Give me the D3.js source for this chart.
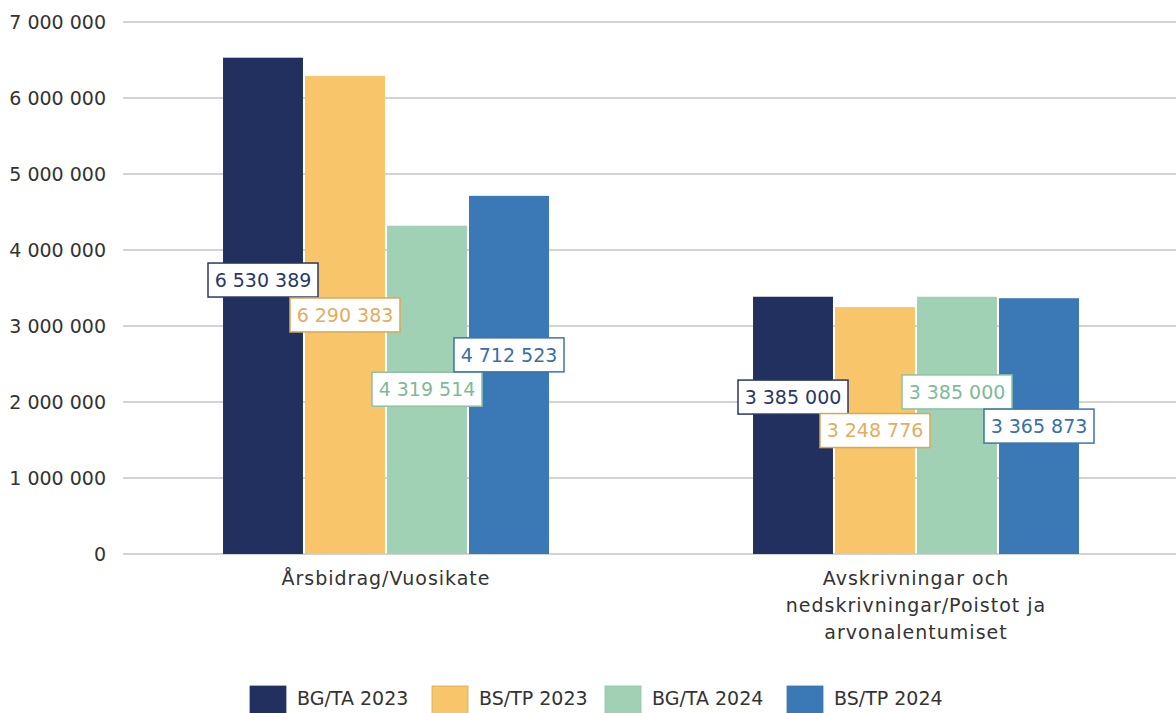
<!DOCTYPE html>
<html>
<head>
<meta charset="utf-8">
<script src="https://cdn.jsdelivr.net/npm/d3@7"></script>
<style>
	body { margin: 0; background: #fff; }
	text { font-family: "DejaVu Sans", sans-serif; }
</style>
</head>
<body>
<div id="chartContainer"></div>
<script>
"use strict";

var categories = ["Årsbidrag/Vuosikate", "Avskrivningar och nedskrivningar/Poistot ja arvonalentumiset"];
var categoryLines = [["Årsbidrag/Vuosikate"], ["Avskrivningar och", "nedskrivningar/Poistot ja", "arvonalentumiset"]];
var seriesNames = ["BG/TA 2023", "BS/TP 2023", "BG/TA 2024", "BS/TP 2024"];
var bgTa2023 = [6530389, 3385000];
var bsTp2023 = [6290383, 3248776];
var bgTa2024 = [4319514, 3385000];
var bsTp2024 = [4712523, 3365873];
var yTicks = [0, 1000000, 2000000, 3000000, 4000000, 5000000, 6000000, 7000000];

// colours per series: bar, label text, label border
var barColours = ["#22305f", "#f8c56b", "#a1d1b4", "#3b78b6"];
var textColours = ["#2b376a", "#e2ad5e", "#80b998", "#3a6ea8"];
var borderColours = ["#2b3765", "#d9a857", "#8cc2a3", "#3d73ad"];
// where the data labels sit, as a share of bar height (hand-placed in the original)
var labelLift = [[0.552, 0.5, 0.502, 0.556], [0.61, 0.5, 0.63, 0.5]];

var seriesValues = [bgTa2023, bsTp2023, bgTa2024, bsTp2024];

const width = 1176, height = 713;
const fmt = v => d3.format(",")(v).replace(/,/g, " ");

let svg = d3.select("#chartContainer")
	.append("svg")
	.attr("width", width)
	.attr("height", height);

let y = d3.scaleLinear()
	.domain([0, 7000000])
	.range([554, 22]);

let x0 = d3.scaleBand()
	.domain(categories)
	.range([121, 1181])
	.paddingInner(0.385)
	.paddingOuter(0.1925);

let x1 = d3.scaleBand()
	.domain(seriesNames)
	.range([0, x0.bandwidth()])
	.paddingInner(0.025);

// grid lines
svg.append("g")
	.selectAll("line")
	.data(yTicks)
	.enter()
	.append("line")
		.attr("x1", 123)
		.attr("x2", width)
		.attr("y1", d => y(d))
		.attr("y2", d => y(d))
		.attr("stroke", "#d3d3d3")
		.attr("stroke-width", 2);

// y axis labels
let yAxis = svg.append("g")
	.attr("transform", "translate(106,0)")
	.call(d3.axisLeft(y).tickValues(yTicks).tickFormat(fmt).tickSize(0).tickPadding(0));
yAxis.select(".domain").remove();
yAxis.selectAll("text")
	.attr("font-family", "DejaVu Sans")
	.attr("font-size", 19)
	.attr("fill", "#333");

// bars
let groups = svg.append("g")
	.selectAll("g")
	.data(categories)
	.enter()
	.append("g")
		.attr("transform", d => `translate(${x0(d)},0)`);

groups.selectAll("rect")
	.data((d, ci) => seriesNames.map((s, si) => ({s: s, si: si, ci: ci, v: seriesValues[si][ci]})))
	.enter()
	.append("rect")
		.attr("x", d => x1(d.s))
		.attr("width", x1.bandwidth())
		.attr("y", d => y(d.v))
		.attr("height", d => y(0) - y(d.v))
		.attr("fill", d => barColours[d.si]);

// data labels
let labels = groups.selectAll("g.label")
	.data((d, ci) => seriesNames.map((s, si) => ({s: s, si: si, ci: ci, v: seriesValues[si][ci]})))
	.enter()
	.append("g")
		.attr("class", "label")
		.attr("transform", d => `translate(${x1(d.s) + x1.bandwidth() / 2},${y(d.v * labelLift[d.ci][d.si])})`);

labels.append("rect")
	.attr("x", -55)
	.attr("y", -17)
	.attr("width", 110)
	.attr("height", 34)
	.attr("fill", "#fff")
	.attr("stroke", d => borderColours[d.si])
	.attr("stroke-width", 1.5);

labels.append("text")
	.attr("text-anchor", "middle")
	.attr("dy", "0.36em")
	.attr("font-size", 19)
	.attr("fill", d => textColours[d.si])
	.text(d => fmt(d.v));

// category labels
svg.append("g")
	.selectAll("text")
	.data(categories)
	.enter()
	.append("text")
		.attr("x", d => x0(d) + x0.bandwidth() / 2)
		.attr("y", 585)
		.attr("text-anchor", "middle")
		.attr("font-size", 19)
		.attr("letter-spacing", 1)
		.attr("fill", "#333")
		.each(function(d, i) {
			d3.select(this).selectAll("tspan")
				.data(categoryLines[i])
				.enter()
				.append("tspan")
					.attr("x", x0(d) + x0.bandwidth() / 2)
					.attr("dy", (t, j) => j === 0 ? 0 : 27)
					.text(t => t);
		});

// legend
let legendX = [250, 432, 605, 787];
let legend = svg.append("g")
	.selectAll("g")
	.data(seriesNames)
	.enter()
	.append("g")
		.attr("transform", (d, i) => `translate(${legendX[i]},686)`);

legend.append("rect")
	.attr("width", 36)
	.attr("height", 28)
	.attr("fill", (d, i) => barColours[i])
	.attr("stroke", (d, i) => borderColours[i])
	.attr("stroke-width", 0.8);

legend.append("text")
	.attr("x", 47)
	.attr("y", 12)
	.attr("dy", "0.36em")
	.attr("font-size", 19)
	.attr("fill", "#333")
	.text(d => d);
</script>
</body>
</html>
